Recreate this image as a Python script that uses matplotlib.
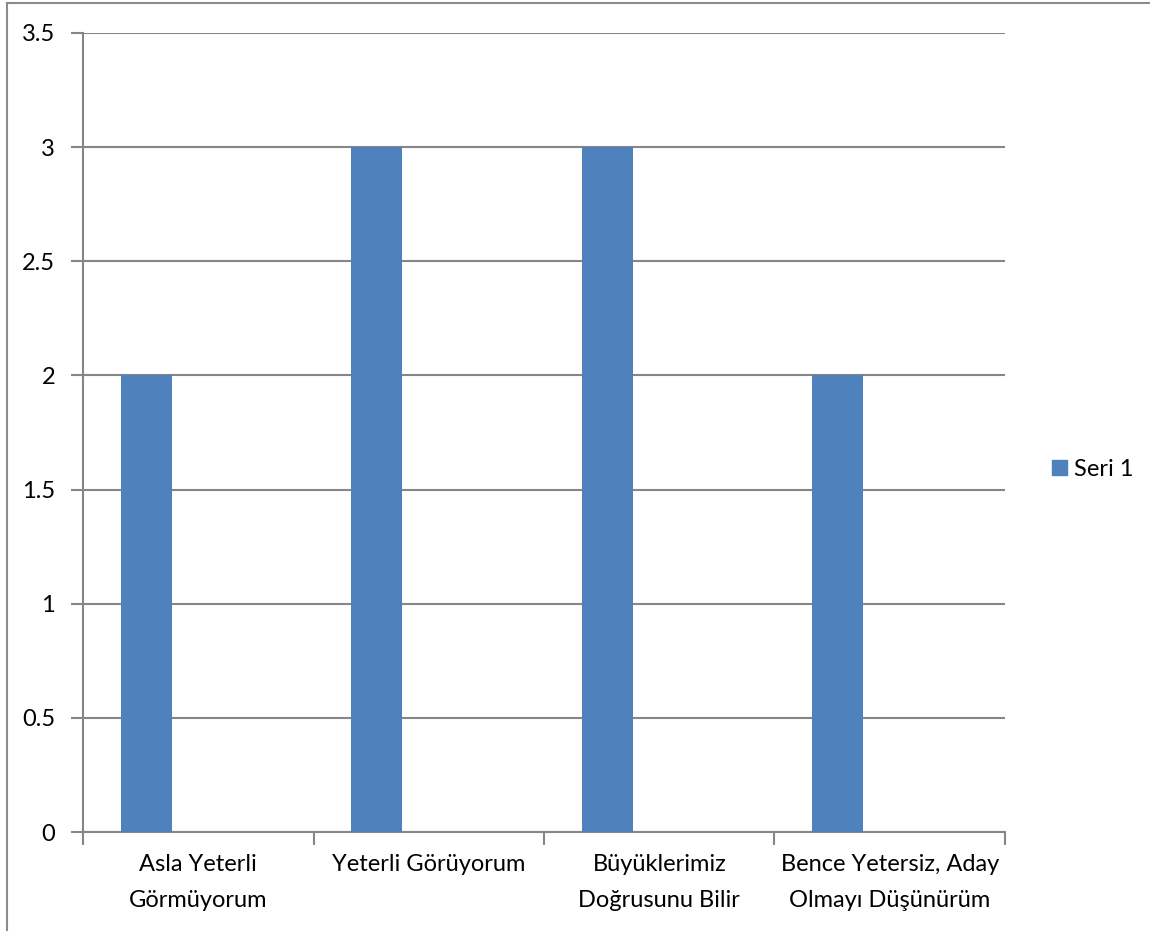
import matplotlib.pyplot as plt
from matplotlib.lines import Line2D
from matplotlib.patches import Patch

# --- DATA ---
categories = ["Asla Yeterli\nGörmüyorum", "Yeterli Görüyorum",
              "Büyüklerimiz\nDoğrusunu Bilir", "Bence Yetersiz, Aday\nOlmayı Düşünürüm"]
values = [2, 3, 3, 2]
series_name = "Seri 1"
y_ticks = [0, 0.5, 1, 1.5, 2, 2.5, 3, 3.5]

# --- STYLE ---
BAR_COLOR = "#4F81BD"
GRID_COLOR = "#868686"
FONT = ["Lato", "DejaVu Sans"]
FS = 17
plt.rcParams["font.family"] = FONT

fig = plt.figure(figsize=(11.5, 9.31), dpi=100)
ax = fig.add_axes([0.0722, 0.1063, 0.8017, 0.8583])

# bars sit left of the category centre, like an Excel cluster
positions = [i - 0.225 for i in range(len(values))]
ax.bar(positions, values, width=0.221, color=BAR_COLOR, zorder=3)

ax.set_xlim(-0.5, len(values) - 0.5)
ax.set_ylim(0, 3.5)
ax.set_yticks(y_ticks)
ax.set_yticklabels([f"{t:g}" for t in y_ticks], fontsize=FS)
ax.yaxis.grid(True, color=GRID_COLOR, linewidth=1.5, zorder=0)

# tick marks at category boundaries, labels at centres
ax.set_xticks([i - 0.5 for i in range(len(values) + 1)])
ax.set_xticklabels([])
ax.set_xticks(range(len(values)), minor=True)
ax.set_xticklabels(categories, minor=True, fontsize=FS, linespacing=1.85)
ax.tick_params(axis="x", which="minor", length=0, pad=16)
ax.tick_params(axis="x", which="major", length=9, width=1.5, color=GRID_COLOR)
ax.tick_params(axis="y", length=9, width=1.5, color=GRID_COLOR, pad=11)

for side in ["top", "right"]:
    ax.spines[side].set_visible(False)
for side in ["left", "bottom"]:
    ax.spines[side].set_color(GRID_COLOR)
    ax.spines[side].set_linewidth(1.5)

# legend
fig.legend(handles=[Patch(color=BAR_COLOR, label=series_name)],
           loc="center left", bbox_to_anchor=(0.896, 0.496), frameon=False,
           fontsize=FS, handlelength=0.65, handleheight=0.65, handletextpad=0.3)

# chart border (left and top visible)
fig.add_artist(Line2D([0.0063, 0.0063], [0, 0.997], color="#8c8c8c", linewidth=1.5))
fig.add_artist(Line2D([0.0063, 1], [0.997, 0.997], color="#8c8c8c", linewidth=1.5))

fig.savefig("out.png", dpi=100)
